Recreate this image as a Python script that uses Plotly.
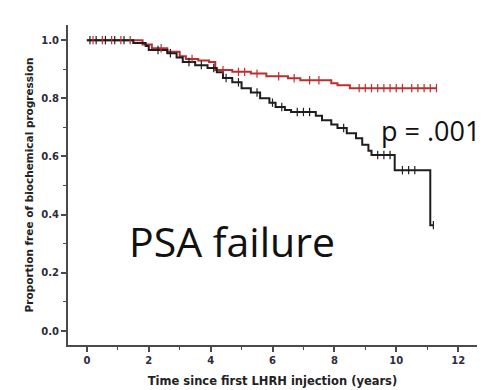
import plotly.graph_objects as go
import numpy as np

# Kaplan-Meier step data
black_t = [0.0, 1.5, 1.9, 2.0, 2.6, 2.9, 3.1, 3.5, 3.9, 4.2, 4.4, 4.7, 5.0, 5.3, 5.6, 5.9, 6.1, 6.4, 6.6,
           7.4, 7.6, 7.9, 8.1, 8.4, 8.7, 8.9, 9.1, 9.2, 9.95, 11.1, 11.2]
black_s = [1.0, 0.99, 0.98, 0.966, 0.955, 0.94, 0.925, 0.914, 0.904, 0.89, 0.87, 0.855, 0.835, 0.82, 0.80,
           0.785, 0.77, 0.76, 0.753, 0.74, 0.725, 0.71, 0.698, 0.68, 0.663, 0.64, 0.62, 0.605, 0.553, 0.364, 0.364]

red_t = [0.0, 1.8, 2.1, 2.6, 3.0, 3.2, 3.6, 3.95, 4.15, 4.7, 5.3, 5.8, 6.5, 6.9, 7.9, 8.1, 8.5, 11.3]
red_s = [1.0, 0.985, 0.972, 0.96, 0.945, 0.935, 0.93, 0.925, 0.897, 0.891, 0.885, 0.876, 0.869, 0.862,
         0.852, 0.845, 0.835, 0.835]

black_censor = [0.1, 0.3, 0.6, 0.9, 1.2, 2.3, 2.7, 3.3, 3.7, 4.1, 4.5, 4.9, 5.5, 6.0, 6.3, 6.8, 7.0, 7.2,
                8.3, 9.4, 9.6, 9.8, 10.2, 10.4, 10.6, 11.2]
red_censor = [0.2, 0.5, 0.8, 1.1, 1.4, 2.4, 3.4, 4.4, 4.9, 5.1, 5.5, 6.2, 6.7, 7.2, 7.5, 8.8, 9.0, 9.2,
              9.4, 9.6, 9.8, 10.0, 10.2, 10.5, 10.7, 10.9, 11.1, 11.3]

x_ticks = [0, 2, 4, 6, 8, 10, 12]
y_ticks = [0.0, 0.2, 0.4, 0.6, 0.8, 1.0]
y_tick_text = ["0.0", "0.2", "0.4", "0.6", "0.8", "1.0"]

RED = "#bd2e31"
BLACK = "#1e1e1e"
AX = "#4a4a4a"


def step_at(ts, ss, t):
    idx = np.searchsorted(ts, t, side="right") - 1
    return ss[max(idx, 0)]


fig = go.Figure()
fig.add_trace(go.Scatter(x=red_t, y=red_s, mode="lines", line=dict(color=RED, width=2, shape="hv"),
                         showlegend=False, hoverinfo="skip"))
fig.add_trace(go.Scatter(x=black_t, y=black_s, mode="lines", line=dict(color=BLACK, width=2, shape="hv"),
                         showlegend=False, hoverinfo="skip"))
fig.add_trace(go.Scatter(x=red_censor, y=[step_at(red_t, red_s, t) for t in red_censor], mode="markers",
                         marker=dict(symbol="line-ns", size=6, line=dict(color=RED, width=1.2)),
                         showlegend=False, hoverinfo="skip"))
fig.add_trace(go.Scatter(x=black_censor, y=[step_at(black_t, black_s, t) for t in black_censor], mode="markers",
                         marker=dict(symbol="line-ns", size=6, line=dict(color=BLACK, width=1.2)),
                         showlegend=False, hoverinfo="skip"))

tick_font = dict(family="DejaVu Sans", size=10, color="#2c2c3a", weight="bold")

fig.update_xaxes(range=[-0.61, 12.61], tickvals=x_ticks, ticktext=[str(v) for v in x_ticks],
                 automargin=False,
                 showgrid=False, zeroline=False, showline=True, linecolor=AX, linewidth=2,
                 ticks="outside", ticklen=5, tickwidth=1.5, tickcolor=AX, tickfont=tick_font,
                 minor=dict(tickvals=[1, 3, 5, 7, 9, 11], ticks="outside", ticklen=3, tickwidth=1, tickcolor=AX),
                 title=dict(text="Time since first LHRH injection (years)",
                            font=dict(family="DejaVu Sans", size=11.5, color="#222", weight="bold"),
                            standoff=12))
fig.update_yaxes(range=[-0.048, 1.052], tickvals=y_ticks, ticktext=y_tick_text,
                 automargin=False,
                 showgrid=False, zeroline=False, showline=True, linecolor=AX, linewidth=2,
                 ticks="outside", ticklen=5, tickwidth=1.5, tickcolor=AX, tickfont=tick_font,
                 minor=dict(tickvals=[0.1, 0.3, 0.5, 0.7, 0.9], ticks="outside", ticklen=3, tickwidth=1,
                            tickcolor=AX),
                 title=dict(text="Proportion free of biochemical progression",
                            font=dict(family="DejaVu Sans", size=10.5, color="#222", weight="bold"),
                            standoff=6))

fig.add_annotation(x=4.69, y=0.31, xref="x", yref="y", text="PSA failure", showarrow=False,
                   font=dict(family="Open Sans", size=41, color="#111"), xanchor="center", yanchor="middle")
fig.add_annotation(x=9.44, y=0.69, xref="x", yref="y", text="p = .001", showarrow=False,
                   font=dict(family="Open Sans", size=27, color="#111"), xanchor="left", yanchor="middle")

fig.update_layout(width=497, height=390, margin=dict(l=68, r=20, t=25, b=45),
                  plot_bgcolor="white", paper_bgcolor="white")

fig.write_html("out.html")
